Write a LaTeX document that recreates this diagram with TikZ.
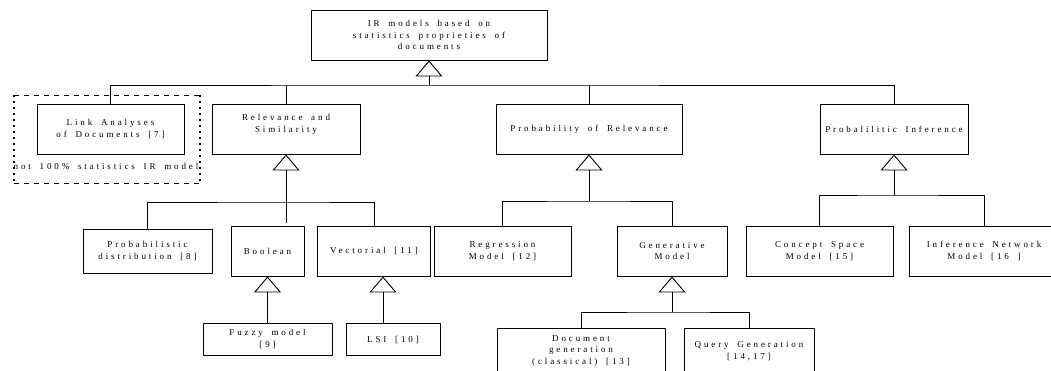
\documentclass[tikz,border=0pt]{standalone}
\usepackage{fontspec}
\newfontfamily\spaced[LetterSpace=32,WordSpace=1.7]{Liberation Serif}
\usetikzlibrary{arrows.meta}

\begin{document}
\begin{tikzpicture}[x=1pt,y=-1pt,
	box/.style={draw,line width=0.95pt,align=center,inner sep=1pt,font=\spaced\fontsize{9}{11.5}\selectfont},
	link/.style={line width=0.9pt},
	inherit/.style={link,-{Triangle[open,length=16pt,width=27pt]}}]
	\useasboundingbox (0,0) rectangle (1051,370);

	% first level
	\node[box,minimum width=236pt,minimum height=50pt] (root) at (429,35) {IR models based on\\statistics proprieties of\\documents};
	\node[box,minimum width=147pt,minimum height=50pt] (linkdoc) at (110.5,129) {Link Analyses\\of Documents [7]};
	\node[box,minimum width=148pt,minimum height=50pt] (relev) at (286,129) {Relevance and\\Similarity\\~};
	\node[box,minimum width=186pt,minimum height=50pt] (probrel) at (589,129) {Probability of Relevance};
	\node[box,minimum width=148pt,minimum height=50pt] (probinf) at (894,129) {Probalilitic Inference};

	% second level
	\node[box,minimum width=129pt,minimum height=44pt] (probdist) at (147.5,251) {Probabilistic\\distribution [8]};
	\node[box,minimum width=73pt,minimum height=50pt] (bool) at (267.5,251) {Boolean};
	\node[box,minimum width=113pt,minimum height=50pt] (vect) at (374,251) {Vectorial [11]};
	\node[box,minimum width=137pt,minimum height=50pt] (regr) at (502.5,251) {Regression\\Model [12]};
	\node[box,minimum width=110pt,minimum height=50pt] (gener) at (672,251) {Generative\\Model};
	\node[box,minimum width=147pt,minimum height=50pt] (concept) at (819.5,251) {Concept Space\\Model [15]};
	\node[box,minimum width=150pt,minimum height=50pt] (infnet) at (984,251) {Inference Network\\Model [16 ]};

	% third level
	\node[box,minimum width=129pt,minimum height=32pt] (fuzzy) at (267.5,339) {Fuzzy model\\{}[9]};
	\node[box,minimum width=94pt,minimum height=32pt] (lsi) at (393,339.5) {LSI [10]};
	\node[box,minimum width=168pt,minimum height=46pt] (docgen) at (581,351) {Document\\generation\\(classical) [13]};
	\node[box,minimum width=130pt,minimum height=46pt] (querygen) at (749,351) {Query Generation\\{}[14,17]};

	% junctions
	\coordinate (j0) at (429,85);
	\coordinate (j1) at (286,202);
	\coordinate (s1) at (286,223);
	\coordinate (s2) at (383,323);
	\coordinate (j2) at (589,201);
	\coordinate (j3) at (672,312);
	\coordinate (j4) at (894,195);

	\draw[inherit] (j0) -- (root.south);
	\draw[link] (linkdoc.north) |- (j0) -| (probinf.north);
	\draw[link] (relev.north) -- (relev.north |- j0);
	\draw[link] (probrel.north) -- (probrel.north |- j0);

	\draw[inherit] (s1) -- (relev.south);
	\draw[link] (probdist.north) |- (j1) -| (vect.north);
	\draw[inherit] (fuzzy.north) -- (bool.south);
	\draw[inherit] (s2) -- (s2 |- vect.south);

	\draw[inherit] (j2) -- (probrel.south);
	\draw[link] (regr.north) |- (j2) -| (gener.north);
	\draw[inherit] (j3) -- (gener.south);
	\draw[link] (docgen.north) |- (j3) -| (querygen.north);

	\draw[inherit] (j4) -- (probinf.south);
	\draw[link] (concept.north) |- (j4) -| (infnet.north);

	% not 100% statistics note
	\draw[link,dash pattern=on 5pt off 5pt] (14,95) -- (200,95) (14,183) -- (200,183);
	\draw[line width=1.5pt,dash pattern=on 1.5pt off 4.5pt] (14,95) -- (14,183) (200,95) -- (200,183);
	\node[font=\spaced\fontsize{9}{11.5}\selectfont,inner sep=0pt] (note) at (106,166) {not 100\% statistics IR model};
\end{tikzpicture}
\end{document}
